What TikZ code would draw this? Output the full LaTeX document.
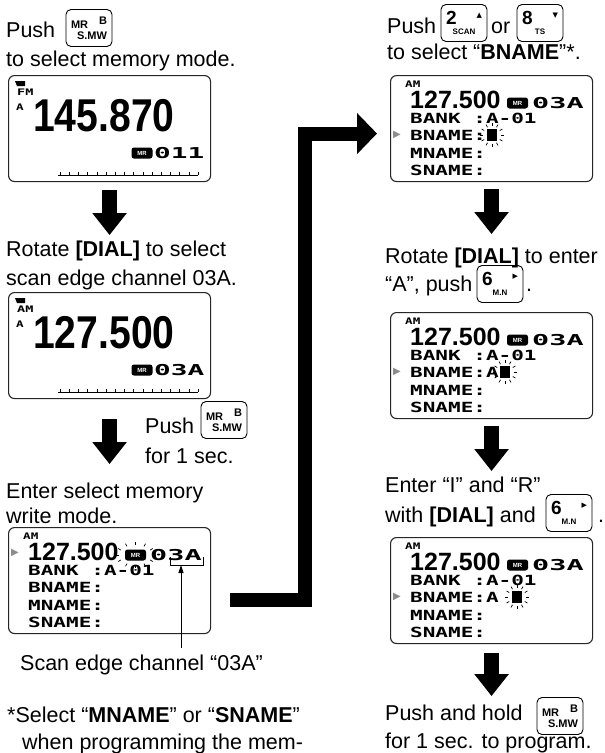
\documentclass[tikz,border=0pt]{standalone}
\usepackage{fontspec}
\setmainfont{Liberation Sans}
\newfontfamily\lcdfont{DejaVu Sans Mono}
\newfontfamily\symfont{DejaVu Sans}
\usepackage{graphicx}
\usetikzlibrary{arrows.meta,calc}
\newcommand{\wide}[2]{\scalebox{#1}[1]{#2}}
\tikzset{
  txt/.style={anchor=base west,inner sep=0pt,font=\fontsize{21.5}{26}\selectfont},
  keybox/.style={draw,line width=0.9pt,rounded corners=5pt,minimum width=46pt,%
    minimum height=37pt,text width=36pt,align=left,inner sep=0pt,%
    font=\fontsize{11}{12}\selectfont\bfseries},
  screen/.style={draw=black!85,line width=1.1pt,rounded corners=6pt,anchor=north west,%
    minimum width=202pt,minimum height=106pt,inner sep=0pt},
  lcd/.style={anchor=base west,inner sep=0pt,font=\lcdfont\bfseries\fontsize{14}{14}\selectfont},
  lcdtiny/.style={anchor=base west,inner sep=0pt,font=\lcdfont\bfseries\fontsize{9}{9}\selectfont},
  lcdch/.style={anchor=base west,inner sep=0pt,font=\lcdfont\bfseries\fontsize{15}{15}\selectfont},
  freqbig/.style={anchor=base west,inner sep=0pt,font=\bfseries\fontsize{46}{46}\selectfont},
  freq/.style={anchor=base west,inner sep=0pt,font=\bfseries\fontsize{25}{25}\selectfont},
  badge/.style={fill=black,text=white,rounded corners=2.5pt,minimum width=21pt,%
    minimum height=11pt,inner sep=0pt,font=\bfseries\fontsize{6}{6}\selectfont},
  marker/.style={anchor=west,inner sep=0pt,text=black!45,font=\symfont\fontsize{10}{10}\selectfont},
  cursor/.style={fill=black,minimum width=10pt,minimum height=12pt,inner sep=0pt},
  ray/.style={line width=0.7pt},
  down/.style={line width=15pt,-{Triangle[width=33pt,length=22pt]}},
  bigturn/.style={line width=14pt,-{Triangle[width=40pt,length=20pt]}},
  callout/.style={line width=0.8pt},
}
% blinking marks round a node: centre, x radius, y radius
\newcommand{\blink}[3]{%
  \foreach \a in {0,30,...,330}
    \draw[ray] (#1) ++(\a:#2 and #3) -- ++(\a:3pt);
}
% frequency screen: name, top left, mode, frequency, channel
\newcommand{\freqscreen}[5]{%
  \node[screen] (#1) at (#2) {};
  \fill ([shift={(7,6)}]#1.north west) -- ++(10,0) -- ++(0,5) -- ++(-8,0) -- cycle;
  \node[lcdtiny] (#1-mode) at ([shift={(9,20)}]#1.north west) {\wide{1.5}{#3}};
  \node[lcdtiny] (#1-vfo) at ([shift={(8,35)}]#1.north west) {\wide{1.4}{A}};
  \node[freqbig] (#1-freq) at ([shift={(25,56)}]#1.north west) {\wide{0.85}{#4}};
  \node[badge] (#1-mr) at ([shift={(134,78)}]#1.north west) {MR};
  \node[lcdch] (#1-ch) at ([shift={(146,83)}]#1.north west) {\wide{1.85}{#5}};
  \draw ([shift={(50,100)}]#1.north west) -- ++(140,0);
  \foreach \t in {0,...,15}
    \draw ([shift={(52+\t*9.2,100)}]#1.north west) -- ++(0,-3);
}
% name screen: name, top left, BNAME line
\newcommand{\namescreen}[3]{%
  \node[screen] (#1) at (#2) {};
  \node[lcdtiny] (#1-mode) at ([shift={(15,12)}]#1.north west) {\wide{1.4}{AM}};
  \node[freq] (#1-freq) at ([shift={(20,33)}]#1.north west) {127.500};
  \node[badge] (#1-mr) at ([shift={(127.5,28)}]#1.north west) {MR};
  \node[lcdch] (#1-ch) at ([shift={(142,33)}]#1.north west) {\wide{1.9}{03A}};
  \node[lcd] (#1-bank) at ([shift={(20,48)}]#1.north west) {\wide{1.5}{BANK :A-01}};
  \node[lcd] (#1-bname) at ([shift={(20,65.5)}]#1.north west) {\wide{1.5}{#3}};
  \node[lcd] (#1-mname) at ([shift={(20,83)}]#1.north west) {\wide{1.5}{MNAME:}};
  \node[lcd] (#1-sname) at ([shift={(20,100)}]#1.north west) {\wide{1.5}{SNAME:}};
}
\newcommand{\mrkey}{MR\hfill\raisebox{4pt}{B}\\[-1pt]\makebox[\linewidth][r]{S.MW}}
\newcommand{\numkey}[3]{{\fontsize{19}{19}\selectfont #1}\hfill
  \raisebox{7pt}{\symfont\fontsize{7}{7}\selectfont #2}\\[-2pt]%
  \makebox[\linewidth][c]{\fontsize{8}{8}\selectfont #3}}

\begin{document}
\begin{tikzpicture}[x=1pt,y=-1pt]
\useasboundingbox (0,0) rectangle (605,753);

% left column
\node[txt] (push1) at (6,37) {Push};
\node[keybox] (key1) at (89,28) {\mrkey};
\node[txt] (sel1) at (6,66) {to select memory mode.};
\freqscreen{scr1}{8,75}{FM}{145.870}{011}
\node[txt] (rot1) at (6,256) {Rotate \textbf{[DIAL]} to select};
\node[txt] (rot1b) at (6,285) {scan edge channel 03A.};
\freqscreen{scr2}{8,292}{AM}{127.500}{03A}
\node[txt] (push2) at (145,433) {Push};
\node[keybox] (key2) at (224,420) {\mrkey};
\node[txt] (push2b) at (145,463) {for 1 sec.};
\node[txt] (ent1) at (6,498) {Enter select memory};
\node[txt] (ent1b) at (6,523) {write mode.};
\namescreen{scr3}{8,527}{BNAME:}
\node[marker] (scr3-ptr) at ([shift={(3,26)}]scr3.north west) {▶};
\blink{scr3-mr}{17pt}{10pt}
\node[txt] (capt) at (20,670) {Scan edge channel “03A”};
\node[txt] (note1) at (7,722) {*Select “\textbf{MNAME}” or “\textbf{SNAME}”};
\node[txt] (note2) at (22,749) {when programming the mem-};

\coordinate (brk) at (181,565);
\draw[callout] (170,557) -- (170,565) -- (203,565) -- (203,557);
\draw[callout,-{Triangle[width=5pt,length=8pt]},shorten <=6pt] (capt.north -| brk) -- (brk);

\draw[down] ([yshift=-8pt]scr1.south) -- ++(0,45);
\draw[down] ([yshift=-20pt]scr2.south) -- ++(0,45);

% right column
\node[txt] (push3) at (387,33) {Push};
\node[keybox] (key3) at (464,23) {\numkey{2}{▲}{SCAN}};
\node[txt] (or) at (491,33) {or};
\node[keybox] (key4) at (540,23) {\numkey{8}{▼}{TS}};
\node[txt] (sel2) at (387,59) {to select “\textbf{BNAME}”*.};
\namescreen{scr4}{390,75}{BNAME:}
\node[marker] (scr4-ptr) at ([shift={(3,60)}]scr4.north west) {▶};
\node[cursor] (scr4-cur) at ([shift={(102,60)}]scr4.north west) {};
\blink{scr4-cur}{9pt}{9pt}

\node[txt] (rot2) at (385,263) {Rotate \textbf{[DIAL]} to enter};
\node[txt] (rot2b) at (385,291) {“A”, push};
\node[keybox] (key5) at (500,284) {\numkey{6}{▶}{M.N}};
\node[txt] (dot1) at (526,291) {.};
\namescreen{scr5}{390,312}{BNAME:A}
\node[marker] (scr5-ptr) at ([shift={(3,60)}]scr5.north west) {▶};
\node[cursor] (scr5-cur) at ([shift={(115,60)}]scr5.north west) {};
\blink{scr5-cur}{9pt}{9pt}

\node[txt] (ent2) at (385,492) {Enter “I” and “R”};
\node[txt] (ent2b) at (385,522) {with \textbf{[DIAL]} and};
\node[keybox] (key6) at (569,513) {\numkey{6}{▶}{M.N}};
\node[txt] (dot2) at (598,522) {.};
\namescreen{scr6}{390,537}{BNAME:A}
\node[marker] (scr6-ptr) at ([shift={(3,60)}]scr6.north west) {▶};
\node[cursor] (scr6-cur) at ([shift={(127,60)}]scr6.north west) {};
\blink{scr6-cur}{9pt}{9pt}

\node[txt] (hold) at (385,720) {Push and hold};
\node[keybox] (key7) at (560,716) {\mrkey};
\node[txt] (holdb) at (385,748) {for 1 sec. to program.};

\draw[down] ([yshift=-7pt]scr4.south) -- ++(0,45);
\draw[down] ([yshift=-7pt]scr5.south) -- ++(0,45);
\draw[down] ([yshift=-9pt]scr6.south) -- ++(0,43);

% turn from the left column to the right one
\coordinate (turn) at (230,600);
\draw[bigturn] (turn) -| ([shift={(-85,5)}]scr4.west) -- ([shift={(-13,5)}]scr4.west);
\end{tikzpicture}
\end{document}
